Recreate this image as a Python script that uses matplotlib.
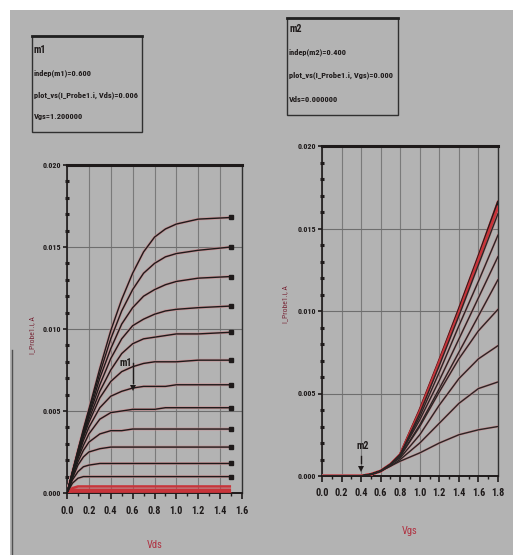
import matplotlib
matplotlib.use("Agg")
import matplotlib.pyplot as plt
from matplotlib.patches import Rectangle
from matplotlib import font_manager
import numpy as np

# ---------------- data ----------------
vds = [0, 0.05, 0.1, 0.15, 0.2, 0.3, 0.4, 0.5, 0.6, 0.7, 0.8, 0.9, 1.0, 1.2, 1.5]
ids_curves = [
    [0, 0.0013, 0.0026, 0.0039, 0.0051, 0.0076, 0.0099, 0.0118, 0.0134, 0.0147, 0.0156, 0.0161, 0.0164, 0.0167, 0.0168],
    [0, 0.0013, 0.0026, 0.0038, 0.0050, 0.0073, 0.0094, 0.0111, 0.0124, 0.0134, 0.0140, 0.0144, 0.0146, 0.0148, 0.0150],
    [0, 0.0013, 0.0025, 0.0037, 0.0048, 0.0070, 0.0088, 0.0103, 0.0113, 0.0120, 0.0124, 0.0127, 0.0129, 0.0131, 0.0132],
    [0, 0.0012, 0.0024, 0.0036, 0.0047, 0.0066, 0.0082, 0.0094, 0.0102, 0.0106, 0.0109, 0.0111, 0.0112, 0.0113, 0.0114],
    [0, 0.0012, 0.0024, 0.0035, 0.0045, 0.0062, 0.0075, 0.0085, 0.0091, 0.0094, 0.0095, 0.0096, 0.0097, 0.0097, 0.0098],
    [0, 0.0012, 0.0023, 0.0034, 0.0043, 0.0058, 0.0068, 0.0074, 0.0077, 0.0079, 0.0080, 0.0080, 0.0080, 0.0081, 0.0081],
    [0, 0.0011, 0.0022, 0.0032, 0.0040, 0.0052, 0.0059, 0.0062, 0.0064, 0.0065, 0.0065, 0.0065, 0.0066, 0.0066, 0.0066],
    [0, 0.0011, 0.0021, 0.0029, 0.0036, 0.0045, 0.0049, 0.0050, 0.0051, 0.0051, 0.0051, 0.0052, 0.0052, 0.0052, 0.0052],
    [0, 0.0010, 0.0019, 0.0026, 0.0031, 0.0036, 0.0038, 0.0038, 0.0039, 0.0039, 0.0039, 0.0039, 0.0039, 0.0039, 0.0039],
    [0, 0.0009, 0.0017, 0.0022, 0.0025, 0.0027, 0.0028, 0.0028, 0.0028, 0.0028, 0.0028, 0.0028, 0.0028, 0.0028, 0.0028],
    [0, 0.0008, 0.0013, 0.0016, 0.0017, 0.0018, 0.0018, 0.0018, 0.0018, 0.0018, 0.0018, 0.0018, 0.0018, 0.0018, 0.0018],
    [0, 0.0006, 0.0009, 0.0010, 0.0010, 0.0010, 0.0010, 0.0010, 0.0010, 0.0010, 0.0010, 0.0010, 0.0010, 0.0010, 0.0010],
    [0, 0.0003, 0.0004, 0.0004, 0.0004, 0.0004, 0.0004, 0.0004, 0.0004, 0.0004, 0.0004, 0.0004, 0.0004, 0.0004, 0.0004],
    [0, 0.0002, 0.0002, 0.0002, 0.0002, 0.0002, 0.0002, 0.0002, 0.0002, 0.0002, 0.0002, 0.0002, 0.0002, 0.0002, 0.0002],
    [0, 0.0001, 0.0001, 0.0001, 0.0001, 0.0001, 0.0001, 0.0001, 0.0001, 0.0001, 0.0001, 0.0001, 0.0001, 0.0001, 0.0001],
    [0, 0, 0, 0, 0, 0, 0, 0, 0, 0, 0, 0, 0, 0, 0],
]

vgs = [0, 0.4, 0.5, 0.6, 0.7, 0.8, 1.0, 1.2, 1.4, 1.6, 1.8]
idg_curves = [
    [0, 0, 0.0001, 0.0003, 0.0007, 0.0013, 0.0040, 0.0070, 0.0101, 0.0133, 0.0166],
    [0, 0, 0.0001, 0.0003, 0.0007, 0.0013, 0.0039, 0.0069, 0.0099, 0.0131, 0.0163],
    [0, 0, 0.0001, 0.0003, 0.0007, 0.0013, 0.0038, 0.0067, 0.0097, 0.0128, 0.0159],
    [0, 0, 0.0001, 0.0003, 0.0007, 0.0013, 0.0036, 0.0063, 0.0091, 0.0118, 0.0146],
    [0, 0, 0.0001, 0.0003, 0.0007, 0.0013, 0.0034, 0.0058, 0.0083, 0.0108, 0.0133],
    [0, 0, 0.0001, 0.0003, 0.0007, 0.0012, 0.0031, 0.0053, 0.0075, 0.0097, 0.0119],
    [0, 0, 0.0001, 0.0003, 0.0007, 0.0012, 0.0030, 0.0051, 0.0071, 0.0088, 0.0101],
    [0, 0, 0.0001, 0.0003, 0.0007, 0.0011, 0.0025, 0.0043, 0.0059, 0.0071, 0.0079],
    [0, 0, 0.0001, 0.0003, 0.0006, 0.0010, 0.0020, 0.0032, 0.0044, 0.0053, 0.0057],
    [0, 0, 0.0001, 0.0003, 0.0006, 0.0009, 0.0014, 0.0020, 0.0025, 0.0028, 0.0030],
]

left_yticks = [0.0, 0.005, 0.010, 0.015, 0.020]
left_xticks = [0.0, 0.2, 0.4, 0.6, 0.8, 1.0, 1.2, 1.4, 1.6]
right_yticks = [0.0, 0.005, 0.010, 0.015, 0.020]
right_xticks = [0.0, 0.2, 0.4, 0.6, 0.8, 1.0, 1.2, 1.4, 1.6, 1.8]

m1_x, m1_y = 0.6, 0.0064
m2_x, m2_y = 0.4, 0.0
m1_text = ["m1", "indep(m1)=0.600", "plot_vs(I_Probe1.i, Vds)=0.006", "Vgs=1.200000"]
m2_text = ["m2", "indep(m2)=0.400", "plot_vs(I_Probe1.i, Vgs)=0.000", "Vds=0.000000"]

# ---------------- style ----------------
BG = "#b3b3b3"
DARK = "#1e1a1a"
RED = "#c8343a"
W, H = 513, 555

available = {f.name for f in font_manager.fontManager.ttflist}
FONT = None
for cand in ["Liberation Sans Narrow", "DejaVu Sans Condensed", "Roboto Condensed",
             "Open Sans Condensed", "Noto Sans Condensed", "Liberation Sans"]:
    if cand in available:
        FONT = cand
        break
if FONT is None:
    FONT = "DejaVu Sans"
NARROW = FONT != "Liberation Sans"
TXT = 7.2 if NARROW else 6.2
BODY = 6.0 if NARROW else 5.2
XTICK = 7.4 if NARROW else 6.2
YTICK = 5.8 if NARROW else 5.0

fig = plt.figure(figsize=(W / 100, H / 100), dpi=100, facecolor=BG)


def px_axes(x0, y0, x1, y1):
    return fig.add_axes([x0 / W, 1 - y1 / H, (x1 - x0) / W, (y1 - y0) / H])


def style_axes(ax, xticks, yticks, xlim, ylim):
    ax.set_facecolor(BG)
    ax.set_xlim(*xlim)
    ax.set_ylim(*ylim)
    ax.set_xticks(xticks)
    ax.set_yticks(yticks)
    ax.set_xticks(np.arange(xlim[0], xlim[1] + 1e-9, 0.1), minor=True)
    ax.set_yticks(np.arange(ylim[0], ylim[1] + 1e-9, 0.001), minor=True)
    ax.set_xticklabels(["%.1f" % t for t in xticks], fontsize=XTICK, fontweight="bold",
                       family=FONT, color=DARK)
    ax.set_yticklabels(["%.3f" % t for t in yticks], fontsize=YTICK, fontweight="bold",
                       family=FONT, color=DARK)
    ax.tick_params(axis="x", which="major", direction="out", length=4, width=1.2,
                   color=DARK, pad=5)
    ax.tick_params(axis="x", which="minor", direction="out", length=2.5, width=1, color=DARK)
    ax.tick_params(axis="y", which="major", direction="out", length=3, width=1.2,
                   color=DARK, pad=1)
    ax.tick_params(axis="y", which="minor", direction="inout", length=3, width=2.2, color=DARK)
    ax.grid(True, axis="x", which="major", color="#7a7a7a", lw=0.8)
    ax.grid(True, axis="y", which="major", color="#6e6e6e", lw=0.8)
    ax.spines["top"].set_linewidth(2.2)
    ax.spines["top"].set_color(DARK)
    ax.spines["left"].set_color(DARK)
    ax.spines["left"].set_linewidth(1.2)
    ax.spines["bottom"].set_color(DARK)
    ax.spines["bottom"].set_linewidth(1.4)
    ax.spines["right"].set_color("#303030")
    ax.spines["right"].set_linewidth(1.0)
    ax.set_axisbelow(True)


# ---------------- left plot ----------------
axL = px_axes(67, 165, 242, 493)
style_axes(axL, left_xticks, left_yticks, (0, 1.6), (0, 0.020))
n = len(ids_curves)
for i, c in enumerate(ids_curves):
    if i >= n - 4:
        axL.plot(vds, c, color=RED, lw=1.8, solid_capstyle="butt", zorder=3)
    else:
        axL.plot(vds, c, color="#c98a8e", lw=2.0, alpha=0.8, zorder=3)
        axL.plot(vds, c, color=DARK, lw=1.0, zorder=4)
        axL.plot(vds[-1], c[-1], marker="s", ms=2.5, color=DARK, zorder=5)
# marker m1
axL.plot([m1_x], [m1_y], marker="v", ms=4, color=DARK, zorder=6, markeredgewidth=0)
axL.plot([m1_x, m1_x], [m1_y + 0.0003, m1_y + 0.0015], color=DARK, lw=1.0, zorder=6)
axL.text(m1_x - 0.01, m1_y + 0.0015, "m1", fontsize=TXT, fontweight="bold", family=FONT,
         color=DARK, ha="right", va="center", zorder=7)
axL.set_xlabel("Vds", fontsize=7.5, family=FONT, color="#b03040", labelpad=18)
axL.set_ylabel("I_Probe1.i, A", fontsize=5.5, family=FONT, color="#7a2a3a")
axL.yaxis.set_label_coords(-0.18, 0.48)

# ---------------- right plot ----------------
axR = px_axes(322, 146, 498, 476)
style_axes(axR, right_xticks, right_yticks, (0, 1.8), (0, 0.020))
for i, c in enumerate(idg_curves):
    if i < 2:
        axR.plot(vgs, c, color=RED, lw=2.0, zorder=4 if i == 1 else 3)
        if i == 0:
            axR.plot(vgs, c, color=DARK, lw=1.6, zorder=4)
    else:
        axR.plot(vgs, c, color="#c98a8e", lw=1.8, alpha=0.8, zorder=3)
        axR.plot(vgs, c, color="#2a2424", lw=1.0, zorder=4)
axR.plot([0, 0.5], [0, 0], color="#d07a80", lw=1.5, zorder=3)
axR.plot([m2_x], [m2_y + 0.0004], marker="v", ms=4, color=DARK, zorder=6, markeredgewidth=0)
axR.plot([m2_x, m2_x], [m2_y + 0.0008, m2_y + 0.0012], color=DARK, lw=1.0, zorder=6)
axR.text(m2_x + 0.02, m2_y + 0.0018, "m2", fontsize=TXT, fontweight="bold", family=FONT,
         color=DARK, ha="center", va="center", zorder=7)
axR.set_xlabel("Vgs", fontsize=7.5, family=FONT, color="#b03040", labelpad=20)
axR.set_ylabel("I_Probe1.i, A", fontsize=5.5, family=FONT, color="#7a2a3a")
axR.yaxis.set_label_coords(-0.19, 0.52)

# ---------------- overlay (boxes, borders) ----------------
ov = fig.add_axes([0, 0, 1, 1], zorder=10)
ov.set_xlim(0, W)
ov.set_ylim(H, 0)
ov.axis("off")
ov.patch.set_alpha(0)
ov.add_patch(Rectangle((0, 0), W, 10, color="white", lw=0))
ov.add_patch(Rectangle((0, 0), 10, H, color="white", lw=0))
ov.plot([11.5, 11.5], [350, H], color="#505050", lw=1.0)

# marker boxes
ov.add_patch(Rectangle((32, 36), 110, 96, fill=False, ec="#303030", lw=1.0))
ov.plot([32, 142], [36, 36], color="#202020", lw=2.0)
for k, (t, y) in enumerate(zip(m1_text, [50, 73, 95, 117])):
    ov.text(34, y, t, fontsize=TXT if k == 0 else BODY, fontweight="bold", family=FONT,
            color=DARK, va="center", ha="left")

ov.add_patch(Rectangle((287, 18), 111, 97, fill=False, ec="#303030", lw=1.0))
ov.plot([287, 398], [18, 18], color="#202020", lw=2.0)
for k, (t, y) in enumerate(zip(m2_text, [29, 52, 75, 99])):
    ov.text(289, y, t, fontsize=TXT if k == 0 else BODY, fontweight="bold", family=FONT,
            color=DARK, va="center", ha="left")

fig.savefig("out.png", dpi=100, facecolor=BG)
